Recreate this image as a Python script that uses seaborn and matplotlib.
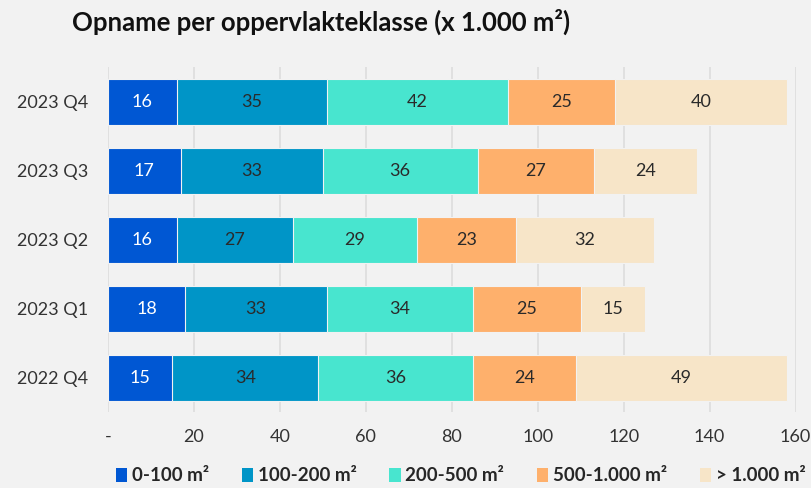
import pandas as pd
import matplotlib.pyplot as plt
import seaborn as sns

quarters = ['2023 Q4', '2023 Q3', '2023 Q2', '2023 Q1', '2022 Q4']
classes = ['0-100 m²', '100-200 m²', '200-500 m²', '500-1.000 m²', '> 1.000 m²']
v_0_100 = [16, 17, 16, 18, 15]
v_100_200 = [35, 33, 27, 33, 34]
v_200_500 = [42, 36, 29, 34, 36]
v_500_1000 = [25, 27, 23, 25, 24]
v_1000_plus = [40, 24, 32, 15, 49]
colors = ['#0057d3', '#0095c7', '#48e5cf', '#feb06c', '#f7e5c8']
x_ticks = [0, 20, 40, 60, 80, 100, 120, 140, 160]
x_tick_labels = ['-', '20', '40', '60', '80', '100', '120', '140', '160']

sns.set_theme(style='white')
plt.rcParams['font.family'] = ['Lato', 'DejaVu Sans']

df = pd.DataFrame({'kwartaal': quarters})
series = [v_0_100, v_100_200, v_200_500, v_500_1000, v_1000_plus]
cum = []
run = [0] * len(quarters)
for s in series:
    run = [a + b for a, b in zip(run, s)]
    cum.append(list(run))
for i, c in enumerate(classes):
    df[c] = cum[i]

fig = plt.figure(figsize=(8.11, 4.88), dpi=100)
fig.patch.set_facecolor('#f2f2f2')
ax = fig.add_axes([0.133, 0.155, 0.848, 0.707])
ax.set_facecolor('#f2f2f2')

# stacked bars: draw cumulative totals from the largest down
for i in reversed(range(len(classes))):
    sns.barplot(data=df, y='kwartaal', x=classes[i], color=colors[i], orient='h',
                width=0.66, edgecolor='#f2f2f2', linewidth=0.8, ax=ax,
                saturation=1, label=classes[i], zorder=2)

for i, s in enumerate(series):
    for j, v in enumerate(s):
        center = cum[i][j] - v / 2
        ax.text(center, j, str(v), ha='center', va='center', fontsize=13,
                color='white' if i == 0 else '#2a2a2a', zorder=3)

handles, labels = ax.get_legend_handles_labels()
if ax.legend_ is not None:
    ax.legend_.remove()

ax.set_xlim(0, 160)
ax.set_xticks(x_ticks)
ax.set_xticklabels(x_tick_labels, fontsize=13, color='#333333')
ax.tick_params(axis='y', labelsize=13, colors='#333333', length=0, pad=14)
ax.tick_params(axis='x', length=0, pad=12)
ax.xaxis.grid(True, color='#e0e0e0', linewidth=1.4, zorder=0)
ax.set_axisbelow(True)
ax.set_xlabel('')
ax.set_ylabel('')
for sp in ax.spines.values():
    sp.set_visible(False)

order = [labels.index(c) for c in classes]
leg = fig.legend([handles[k] for k in order], classes, loc='lower center',
                 bbox_to_anchor=(0.568, -0.027), ncol=5, frameon=False,
                 prop={'weight': 'bold', 'size': 13.5}, handlelength=0.6,
                 handleheight=0.8, handletextpad=0.25, columnspacing=1.75)
for h in leg.legend_handles:
    h.set_edgecolor('none')

fig.text(0.089, 0.955, 'Opname per oppervlakteklasse (x 1.000 m²)',
         fontsize=18.5, fontweight='bold', color='#111111', va='center')

fig.savefig('out.png', dpi=100, facecolor=fig.get_facecolor())
